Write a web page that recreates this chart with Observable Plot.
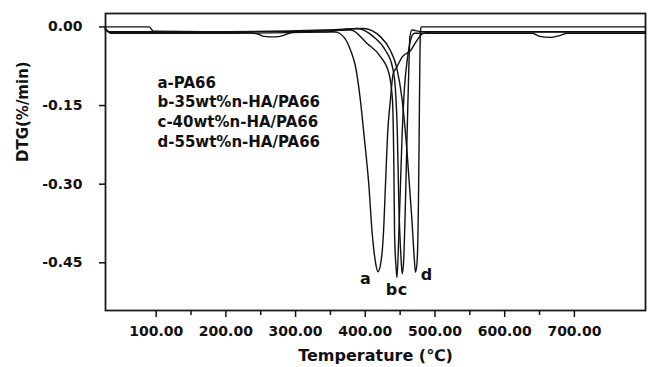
<!DOCTYPE html>
<html><head><meta charset="utf-8">
<script src="https://cdn.jsdelivr.net/npm/d3@7"></script>
<script src="https://cdn.jsdelivr.net/npm/@observablehq/plot@0.6"></script>
<style>body{margin:0;background:#fff}</style></head>
<body><div id="chart"></div>
<script>
// Axis definitions
const xDomain = [27.3, 802];
const yDomain = [-0.541, 0.0256];
const xMajor = [100, 200, 300, 400, 500, 600, 700];
const xMinor = [150, 250, 350, 450, 550, 650];
const yTicks = [0, -0.15, -0.30, -0.45];
const xTitle = "Temperature (℃)";
const yTitle = "DTG(%/min)";
const legendLines = ["a-PA66", "b-35wt%n-HA/PA66", "c-40wt%n-HA/PA66", "d-55wt%n-HA/PA66"];

// Curve a : PA66
const aT = [27, 32, 100, 200, 330, 357, 369, 379, 386, 393, 398, 405, 410, 415, 418, 422, 426, 429, 432, 436, 440, 445, 453, 465, 474, 483, 495, 600, 802];
const aV = [-0.003, -0.009, -0.009, -0.009, -0.009, -0.010, -0.019, -0.045, -0.076, -0.140, -0.204, -0.300, -0.395, -0.452, -0.467, -0.452, -0.395, -0.300, -0.204, -0.140, -0.089, -0.077, -0.057, -0.045, -0.026, -0.012, -0.010, -0.010, -0.010];
// Curve b : 35wt%
const bT = [27, 35, 120, 230, 245, 255, 270, 283, 293, 330, 379, 403, 422, 434, 439, 441, 442, 444.5, 445.5, 448, 450.5, 453, 456, 460.5, 465, 470.5, 480, 640, 650, 665, 680, 690, 802];
const bV = [-0.004, -0.011, -0.011, -0.011, -0.013, -0.018, -0.019, -0.016, -0.011, -0.008, -0.006, -0.032, -0.057, -0.089, -0.140, -0.268, -0.395, -0.465, -0.478, -0.400, -0.300, -0.200, -0.120, -0.060, -0.025, -0.012, -0.012, -0.012, -0.018, -0.020, -0.016, -0.012, -0.012];
// Curve c : 40wt%
const cT = [27, 35, 200, 340, 388, 412, 429, 439, 443, 446, 448, 451.5, 453, 455, 457.7, 460, 462.5, 464, 467, 480, 802];
const cV = [-0.004, -0.012, -0.012, -0.010, -0.003, -0.019, -0.045, -0.077, -0.115, -0.204, -0.330, -0.446, -0.471, -0.446, -0.330, -0.204, -0.077, -0.019, -0.006, -0.009, -0.009];
// Curve d : 55wt%
const dT = [27, 90, 96, 200, 340, 397, 422, 436, 445, 453, 460, 467, 470.5, 472, 474.4, 476.3, 477.3, 478.2, 479, 480, 802];
const dV = [0, 0, -0.008, -0.009, -0.006, -0.003, -0.019, -0.045, -0.077, -0.140, -0.240, -0.370, -0.446, -0.468, -0.446, -0.330, -0.204, -0.077, -0.014, 0, 0];

// Peak labels
const peakLabels = ["a", "b", "c", "d"];
const peakT = [400.3, 437.6, 453.4, 487.8];
const peakV = [-0.481, -0.502, -0.502, -0.473];

const series = [["a", aT, aV], ["b", bT, bV], ["c", cT, cV], ["d", dT, dV]];
const rows = series.flatMap(([s, T, V]) => T.map((t, i) => ({s, T: t, V: V[i]})));
const peaks = peakLabels.map((l, i) => ({l, T: peakT[i], V: peakV[i]}));

const chart = Plot.plot({
  width: 650, height: 367,
  marginLeft: 105, marginRight: 5, marginTop: 13, marginBottom: 57,
  style: {fontFamily: "'DejaVu Sans', sans-serif", fontWeight: "bold", fontSize: "14px", color: "#111", background: "#fff"},
  x: {domain: xDomain},
  y: {domain: yDomain},
  marks: [
    Plot.frame({stroke: "#1a1a1a", strokeWidth: 1.8}),
    Plot.axisX({ticks: xMajor, tickSize: 7, tickPadding: 9, tickFormat: d => d.toFixed(2), label: null, strokeWidth: 1.5}),
    Plot.axisX({ticks: xMinor, tickSize: 5, tickFormat: () => "", label: null, strokeWidth: 1.5}),
    Plot.axisY({ticks: yTicks, tickSize: 6, tickPadding: 17, tickFormat: d => d.toFixed(2), label: null, strokeWidth: 1.5}),
    Plot.line(rows, {x: "T", y: "V", z: "s", stroke: "#111", strokeWidth: 1.4, curve: "monotone-x"}),
    Plot.text(peaks, {x: "T", y: "V", text: "l", fontSize: 16, fill: "#111"}),
    Plot.text([legendLines.join("\n")], {frameAnchor: "top-left", dx: 52, dy: 60, lineAnchor: "top", textAnchor: "start", lineHeight: 1.32, fontSize: 15, fill: "#111"}),
    Plot.text([xTitle], {frameAnchor: "bottom", dy: 50, fontSize: 16, fill: "#111"}),
    Plot.text([yTitle], {frameAnchor: "left", dx: -82, rotate: -90, fontSize: 15, fill: "#111"})
  ]
});
document.getElementById("chart").appendChild(chart);
</script>
</body></html>
